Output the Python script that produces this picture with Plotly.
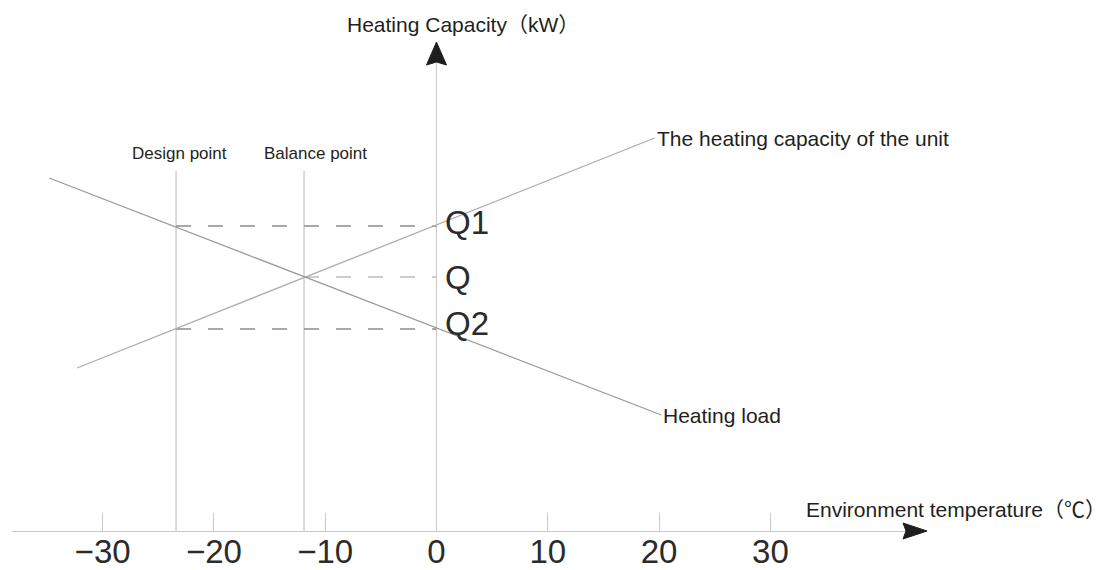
import plotly.graph_objects as go

# ---- data ----
unit_temp = [-32.3, 19.6]          # heating capacity of the unit
unit_cap = [16.3, 39.3]
load_temp = [-34.8, 20.2]          # heating load
load_cap = [35.3, 11.6]
design_temp = -23.4
balance_temp = -11.9
q_labels = ["Q1", "Q", "Q2"]
q_levels = [30.5, 25.4, 20.2]
q_start = [design_temp, balance_temp, design_temp]
marker_top = 36.0
x_ticks = [-30, -20, -10, 0, 10, 20, 30]
x_ticktext = ["\u221230", "\u221220", "\u221210", "0", "10", "20", "30"]

X_RANGE = [-38.14, 44.07]
Y_RANGE = [0, 48.9]

FONT = "Arial, 'Liberation Sans', 'Noto Sans CJK SC', sans-serif"
TXT = "#231f20"

fig = go.Figure()

# vertical marker lines
for xv in [design_temp, balance_temp]:
    fig.add_trace(go.Scatter(x=[xv, xv], y=[0, marker_top], mode="lines",
                             line=dict(color="#c4c4c4", width=1.2),
                             hoverinfo="skip", showlegend=False))

# dashed Q lines
for lab, lev, xs in zip(q_labels, q_levels, q_start):
    col = "#bdbdbd" if lab == "Q" else "#8c8c8c"
    fig.add_trace(go.Scatter(x=[xs, 0], y=[lev, lev], mode="lines",
                             line=dict(color=col, width=1.3, dash="15px,17px"),
                             hoverinfo="skip", showlegend=False))

# unit capacity line
fig.add_trace(go.Scatter(x=unit_temp, y=unit_cap, mode="lines",
                         line=dict(color="#acacac", width=1.3),
                         hoverinfo="skip", showlegend=False))
# heating load line
fig.add_trace(go.Scatter(x=load_temp, y=load_cap, mode="lines",
                         line=dict(color="#9a9a9a", width=1.3),
                         hoverinfo="skip", showlegend=False))

annotations = [
    dict(x=-8.2, xref="x", y=1.0348, yref="paper", text="Heating Capacity\uff08kW\uff09",
         showarrow=False, xanchor="left", yanchor="middle",
         font=dict(size=21, family=FONT, color=TXT)),
    dict(x=33.0, y=2.2, text="Environment temperature\uff08\u2103\uff09", showarrow=False,
         xanchor="left", yanchor="middle", font=dict(size=21, family=FONT, color=TXT)),
    dict(x=design_temp, y=37.8, text="Design point", showarrow=False, xshift=3,
         xanchor="center", yanchor="middle", font=dict(size=17, family=FONT, color=TXT)),
    dict(x=balance_temp, y=37.8, text="Balance point", showarrow=False, xshift=11,
         xanchor="center", yanchor="middle", font=dict(size=17, family=FONT, color=TXT)),
    dict(x=unit_temp[1], y=unit_cap[1], text="The heating capacity of the unit", showarrow=False,
         xanchor="left", yanchor="middle", font=dict(size=21, family=FONT, color=TXT)),
    dict(x=load_temp[1], y=load_cap[1], text="Heating load", showarrow=False,
         xanchor="left", yanchor="middle", font=dict(size=21, family=FONT, color=TXT)),
]
for lab, lev, dy in zip(q_labels, q_levels, [0.4, 0.0, 0.6]):
    annotations.append(dict(x=0, y=lev + dy, text=lab, showarrow=False, xshift=6,
                            xanchor="left", yanchor="middle",
                            font=dict(size=33, family=FONT, color="#2b2b2b")))

# paper position of x = 0 (for the y-axis arrow head)
x0_paper = (0 - X_RANGE[0]) / (X_RANGE[1] - X_RANGE[0])

shapes = [
    # x-axis arrow head
    dict(type="path", xref="paper", yref="paper", xsizemode="pixel", ysizemode="pixel",
         xanchor=1, yanchor=0,
         path="M -24,-8 L 0,0 L -24,8 L -21,0 Z",
         fillcolor="#1e1e1e", line=dict(color="#1e1e1e", width=1)),
    # y-axis arrow head
    dict(type="path", xref="paper", yref="paper", xsizemode="pixel", ysizemode="pixel",
         xanchor=x0_paper, yanchor=1,
         path="M -10,-23 L 0,0 L 10,-23 L 0,-20 Z",
         fillcolor="#1e1e1e", line=dict(color="#1e1e1e", width=1)),
]

fig.update_layout(
    template="none",
    width=1107, height=570,
    margin=dict(l=12, r=180, t=42, b=39, pad=0),
    paper_bgcolor="white", plot_bgcolor="white",
    showlegend=False,
    annotations=annotations,
    shapes=shapes,
    xaxis=dict(range=X_RANGE, showgrid=False, zeroline=True, zerolinecolor="#c8c8c8",
               zerolinewidth=1.2, showline=True, linecolor="#c8c8c8", linewidth=1.2,
               ticks="inside", ticklen=18, tickcolor="#c8c8c8", tickwidth=1.2,
               tickvals=x_ticks, ticktext=x_ticktext, automargin=False,
               ticklabelstandoff=-9,
               tickfont=dict(size=33, family=FONT, color="#2b2b2b"), fixedrange=True),
    yaxis=dict(range=Y_RANGE, showgrid=False, zeroline=False, showline=False,
               showticklabels=False, ticks="", automargin=False, fixedrange=True),
)

fig.write_html("out.html", config={"displayModeBar": False},
               post_script="document.body.style.margin='0';document.body.style.overflow='hidden';")
